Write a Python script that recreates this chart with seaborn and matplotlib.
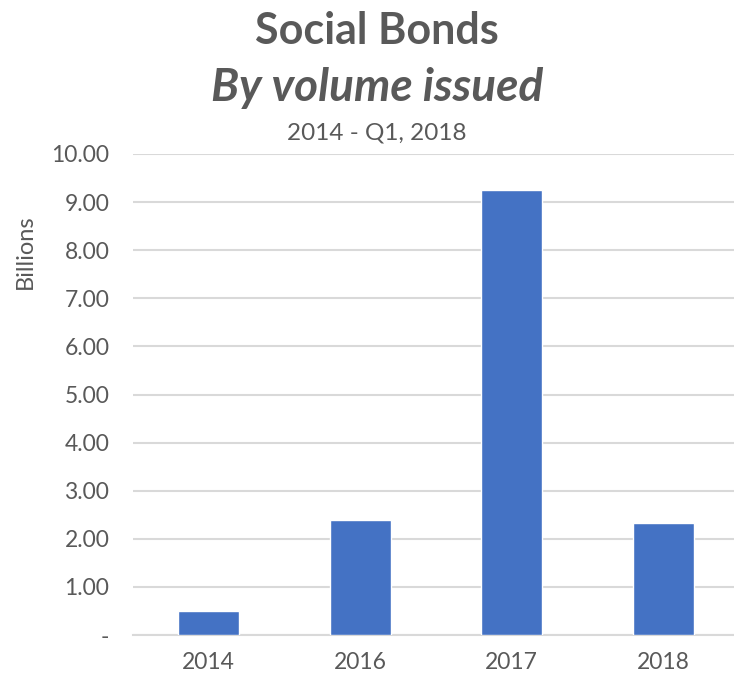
import matplotlib
matplotlib.use("Agg")
import matplotlib.pyplot as plt
import seaborn as sns
import pandas as pd

years = ["2014", "2016", "2017", "2018"]
volume_bn = [0.50, 2.40, 9.26, 2.33]
y_ticks = [0, 1, 2, 3, 4, 5, 6, 7, 8, 9, 10]
y_tick_labels = ["-", "1.00", "2.00", "3.00", "4.00", "5.00",
                 "6.00", "7.00", "8.00", "9.00", "10.00"]

sns.set_theme(style="white")
plt.rcParams["font.family"] = ["Lato", "DejaVu Sans"]

TEXT = "#595959"
BAR = "#4472C4"
GRID = "#D9D9D9"

df = pd.DataFrame({"year": years, "volume": volume_bn})

fig = plt.figure(figsize=(7.34, 6.75), dpi=100)
ax = fig.add_axes([133 / 734, 40 / 675, 606 / 734, 481 / 675])

sns.barplot(data=df, x="year", y="volume", color=BAR, width=0.4,
            saturation=1, ax=ax, zorder=3)

ax.set_ylim(0, 10)
ax.set_yticks(y_ticks)
ax.set_yticklabels(y_tick_labels)
ax.yaxis.grid(True, color=GRID, linewidth=1.5, zorder=0)
ax.xaxis.grid(False)
for s in ["top", "right", "left"]:
    ax.spines[s].set_visible(False)
ax.spines["bottom"].set_color(GRID)
ax.spines["bottom"].set_linewidth(1.5)
ax.tick_params(axis="y", length=0, pad=17, labelsize=16.5, labelcolor=TEXT)
ax.tick_params(axis="x", length=0, pad=12, labelsize=16.5, labelcolor=TEXT)
ax.set_xlabel("")
ax.set_ylabel("")

fig.text(25 / 734, 1 - 252 / 675, "Billions", rotation=90, ha="center",
         va="center", fontsize=17, color=TEXT)

fig.text(377 / 734, 1 - 31 / 675, "Social Bonds", ha="center", va="center",
         fontsize=31, fontweight="bold", color=TEXT)
fig.text(377 / 734, 1 - 88 / 675, "By volume issued", ha="center",
         va="center", fontsize=33, fontweight="bold", fontstyle="italic",
         color=TEXT)
fig.text(377 / 734, 1 - 133 / 675, "2014 - Q1, 2018", ha="center",
         va="center", fontsize=17.5, color=TEXT)

fig.savefig("out.png", dpi=100, facecolor="white")
